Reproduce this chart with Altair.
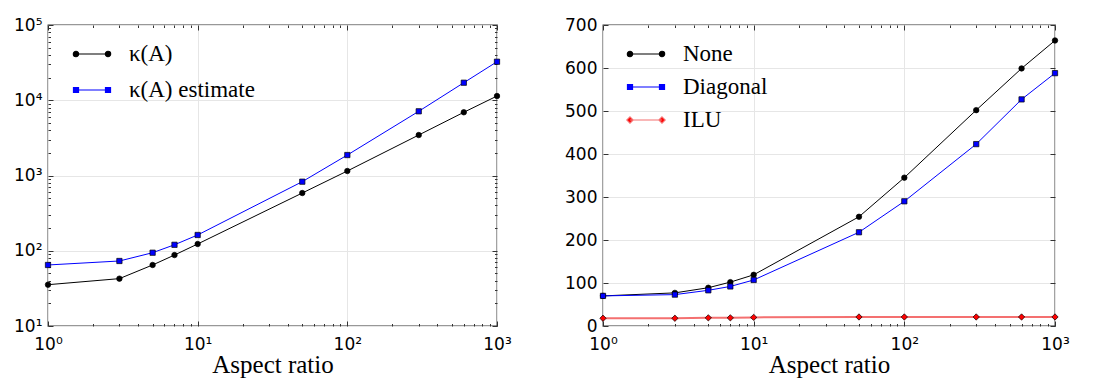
import altair as alt
import pandas as pd

# ---------------- data ----------------
aspect = [1, 3, 5, 7, 10, 50, 100, 300, 600, 1000]
kappa = [35.4, 42.6, 64.7, 87.7, 123, 585, 1148, 3450, 6920, 11380]
kappa_est = [64.7, 73.1, 94.2, 120, 162, 828, 1871, 7130, 17100, 32500]
it_none = [70, 77, 89, 102, 119, 254, 345, 502, 599, 664]
it_diag = [70, 73, 83, 92, 107, 218, 290, 423, 527, 588]
it_ilu = [18, 18, 19, 19, 20, 21, 21, 21, 21, 21]

left_names = ["κ(A)", "κ(A) estimate"]
right_names = ["None", "Diagonal", "ILU"]

x_major = [1, 10, 100, 1000]
y_major_left = [10, 100, 1000, 10000, 100000]
y_major_right = [0, 100, 200, 300, 400, 500, 600, 700]
x_minor = [m * d for d in (1, 10, 100) for m in range(2, 10)]
y_minor_left = [m * d for d in (10, 100, 1000, 10000) for m in range(2, 10)]

# ---------------- styling ----------------
W1, W2, H = 449, 452, 301
SERIF = "Liberation Serif"
SANS = "DejaVu Sans"
SUP = "'10' + ['⁰','¹','²','³','⁴','⁵'][round(log(datum.value)/LN10)]"
TICK = "#333333"

P_CIRCLE = ("M-1.17,0A0.17,0.17 0 1,1 -0.83,0A0.17,0.17 0 1,1 -1.17,0Z "
            "M0.83,0A0.17,0.17 0 1,1 1.17,0A0.17,0.17 0 1,1 0.83,0Z M-1,0L1,0")
P_SQUARE = ("M-1.16,-0.16L-0.84,-0.16L-0.84,0.16L-1.16,0.16Z "
            "M0.84,-0.16L1.16,-0.16L1.16,0.16L0.84,0.16Z M-1,0L1,0")
P_DIAMOND = ("M-1,-0.2L-0.8,0L-1,0.2L-1.2,0Z "
             "M1,-0.2L1.2,0L1,0.2L0.8,0Z M-1,0L1,0")


def long_df(names, series):
    rows = []
    for n, vals in zip(names, series):
        for a, v in zip(aspect, vals):
            rows.append({"x": a, "y": v, "s": n})
    return pd.DataFrame(rows)


def tick_axis(orient, offset, values, size):
    return alt.Axis(orient=orient, offset=offset, values=values, labels=False,
                    domain=False, grid=False, ticks=True, tickSize=size,
                    tickColor=TICK, tickWidth=1, title=None)


def panel(df, names, line_colors, fill_colors, marker_shapes, marker_sizes,
          legend_paths, W, yscale, y_major, y_minor, y_log, legend_xy, row_pad):
    xs = alt.Scale(type="log", domain=[1, 1000], nice=False)
    base = alt.Chart(df)

    x_main = alt.X("x:Q", scale=xs, axis=alt.Axis(
        orient="bottom", values=x_major, labelExpr=SUP, ticks=False, domain=False,
        grid=True, gridColor="#e6e6e6", gridWidth=1, labelFlush=False,
        labelOverlap=False, labelFont=SANS, labelFontSize=17, labelColor="black",
        labelPadding=10, title="Aspect ratio", titleFont=SERIF, titleFontSize=25,
        titleFontWeight="normal", titleColor="black", titlePadding=0))
    yaxis_kw = dict(orient="left", values=y_major, ticks=False, domain=False,
                    grid=True, gridColor="#e6e6e6", gridWidth=1, labelFlush=False,
                    labelOverlap=False, labelFont=SANS, labelFontSize=17,
                    labelColor="black", labelPadding=6, title=None)
    if y_log:
        yaxis_kw["labelExpr"] = SUP
    y_main = alt.Y("y:Q", scale=yscale, axis=alt.Axis(**yaxis_kw))

    leg = alt.Legend(orient="none", legendX=legend_xy[0], legendY=legend_xy[1],
                     title=None, labelFont=SERIF, labelFontSize=23,
                     labelColor="black", symbolSize=1024, symbolStrokeWidth=1.1,
                     labelOffset=20, rowPadding=row_pad, padding=0,
                     symbolOpacity=1)

    stroke_scale = alt.Scale(domain=names, range=line_colors)

    dummy = base.transform_filter("false").mark_point(opacity=1, size=1024).encode(
        x=alt.X("x:Q", scale=xs, axis=tick_axis("top", -H, x_major, 5)),
        y=alt.Y("y:Q", scale=yscale, axis=tick_axis("right", -W, y_major, 5)),
        fill=alt.Fill("s:N", scale=alt.Scale(domain=names, range=fill_colors), legend=leg),
        stroke=alt.Stroke("s:N", scale=stroke_scale, legend=leg),
        shape=alt.Shape("s:N", scale=alt.Scale(domain=names, range=legend_paths), legend=leg),
    )

    line = base.mark_line(clip=True).encode(
        x=x_main, y=y_main,
        stroke=alt.Stroke("s:N", scale=stroke_scale, legend=leg),
        strokeWidth=alt.condition(alt.datum.s == "ILU", alt.value(2.0), alt.value(1.0)),
        detail="s:N",
    )

    layers = [dummy, line]
    for n, fc, shp, sz in zip(names, fill_colors, marker_shapes, marker_sizes):
        layers.append(
            base.transform_filter(alt.datum.s == n).mark_point(
                shape=shp, filled=True, fill=fc, stroke="black", strokeWidth=0.7,
                size=sz, opacity=1, clip=False).encode(
                x=alt.X("x:Q", scale=xs, axis=None),
                y=alt.Y("y:Q", scale=yscale, axis=None)))

    layers.append(base.transform_filter("false").mark_point(opacity=0).encode(
        x=alt.X("x:Q", scale=xs, axis=tick_axis("bottom", -H, x_major, 5)),
        y=alt.Y("y:Q", scale=yscale, axis=tick_axis("left", -W, y_major, 5))))

    if y_log:
        ya1 = tick_axis("right", -W, y_minor, 2.5)
        ya2 = tick_axis("left", -W, y_minor, 2.5)
    else:
        ya1 = None
        ya2 = None
    layers.append(base.transform_filter("false").mark_point(opacity=0).encode(
        x=alt.X("x:Q", scale=xs, axis=tick_axis("top", -H, x_minor, 2.5)),
        y=alt.Y("y:Q", scale=yscale, axis=ya1)))
    layers.append(base.transform_filter("false").mark_point(opacity=0).encode(
        x=alt.X("x:Q", scale=xs, axis=tick_axis("bottom", -H, x_minor, 2.5)),
        y=alt.Y("y:Q", scale=yscale, axis=ya2)))

    return alt.layer(*layers).resolve_axis(x="independent", y="independent").properties(
        width=W, height=H)


df_left = long_df(left_names, [kappa, kappa_est])
df_right = long_df(right_names, [it_none, it_diag, it_ilu])

left = panel(df_left, left_names, ["#000000", "#0000ff"], ["#000000", "#0000ff"],
             ["circle", "square"], [30, 28], [P_CIRCLE, P_SQUARE], W1,
             alt.Scale(type="log", domain=[10, 100000], nice=False),
             y_major_left, y_minor_left, True, (27, 12), 7)

right = panel(df_right, right_names, ["#000000", "#0000ff", "#f47070"],
              ["#000000", "#0000ff", "#ff0000"], ["circle", "square", "diamond"],
              [30, 28, 40], [P_CIRCLE, P_SQUARE, P_DIAMOND], W2,
              alt.Scale(type="linear", domain=[0, 700], nice=False, zero=True),
              y_major_right, [], False, (26, 12), 4)

chart = alt.hconcat(left, right, spacing=51).resolve_scale(
    fill="independent", stroke="independent", shape="independent"
).properties(
    padding={"left": 12, "top": 15, "right": 5, "bottom": 5},
    background="white",
).configure_view(stroke="#333333", strokeWidth=1.3)

chart.save("out.html", embed_options={"renderer": "svg", "actions": False})
